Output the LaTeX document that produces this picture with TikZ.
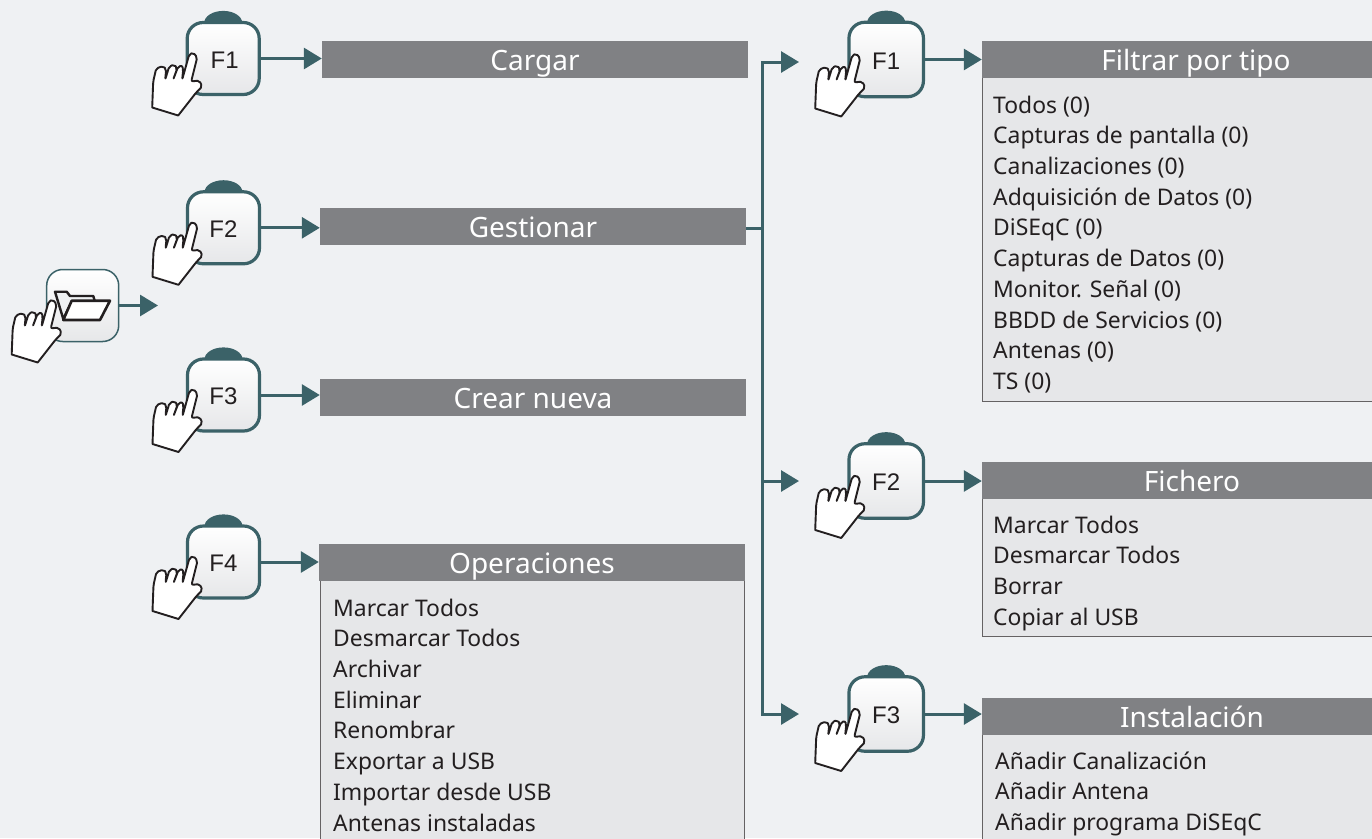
\documentclass[tikz,border=0pt]{standalone}
\usepackage{xcolor}
\usepackage{fontspec}
\usepackage{tikz}
\usetikzlibrary{arrows.meta}
\setmainfont{Noto Sans}
\newfontfamily\keyfont{Liberation Sans}
\definecolor{pagegrey}{HTML}{EFF1F3}
\definecolor{linkteal}{HTML}{3B6268}
\definecolor{bargrey}{HTML}{808184}
\definecolor{listgrey}{HTML}{E6E7E9}
\definecolor{inkgrey}{HTML}{231F20}
\tikzset{
	key node/.style={rectangle, draw=linkteal, line width=3.2pt, rounded corners=16pt, minimum size=72pt, inner sep=0pt, top color=white, bottom color=listgrey, text=inkgrey, text height=19pt, font=\keyfont\fontsize{24}{26}\selectfont},
	wide key/.style={key node, minimum size=74.5pt},
	open node/.style={key node, line width=1.5pt, minimum size=72pt},
	bar title/.style={inner sep=0pt, text=white, text height=28pt, text depth=6pt, font=\fontsize{28}{30}\selectfont},
	bar node/.style={bar title, rectangle, fill=bargrey, minimum width=426pt, minimum height=37pt},
	side bar/.style={bar node, minimum width=392pt},
	list node/.style={rectangle, draw=inkgrey!70, line width=.8pt, fill=listgrey, inner sep=0pt},
	list text/.style={anchor=north west, inner sep=0pt, align=left, text=inkgrey, font=\fontsize{22.9}{30.7}\selectfont},
	link/.style={draw=linkteal, line width=3pt, -{Triangle[length=18pt,width=21pt]}},
	bump/.style={fill=linkteal},
	hand/.pic={
		\draw[fill=white, draw=inkgrey, line width=1.9pt, rounded corners=2pt, line join=round]
		(-71,49) -- (-70,23) -- (-67,10) -- (-60,7.5) -- (-57,11) -- (-58,21)
		-- (-54,8) -- (-49,6) -- (-46,10) -- (-50,21)
		-- (-45,8) -- (-41,7) -- (-40,11) -- (-41,21)
		-- (-34,-4) -- (-30,-6) -- (-26,-1) -- (-32,23)
		-- (-24,22) -- (-21,28) -- (-27,34) [sharp corners] -- (-45,57) -- cycle;
	}
}
\begin{document}
\begin{tikzpicture}[x=1pt,y=-1pt]
	\path[use as bounding box, fill=pagegrey] (0,0) rectangle (1372,838);

	% Nodes
	\node[open node] (open) at (82.7,305.5) {};
	\node[key node] (a1) at (223.2,58.5) {\hspace{3pt}F1};
	\node[key node] (a2) at (223.5,227.8) {F2};
	\node[key node] (a3) at (223.5,395) {F3};
	\node[key node] (a4) at (223.5,562) {F4};
	\node[wide key] (b1) at (886.2,59.5) {F1};
	\node[wide key] (b2) at (886.2,481) {F2};
	\node[wide key] (b3) at (886.2,714) {F3};

	\node[list node, minimum width=424pt, minimum height=262pt] (opsbody) at (532.2,711) {};
	\node[list node, minimum width=392pt, minimum height=324pt] (filterbody) at (1178,239) {};
	\node[list node, minimum width=392pt, minimum height=174pt] (filebody) at (1178,549) {};
	\node[list node, minimum width=392pt, minimum height=144pt] (setupbody) at (1178,770) {};

	\node[bar node] (cargar) at (535,59.5) {Cargar};
	\node[bar node] (gestionar) at (533,226.5) {Gestionar};
	\node[bar node] (crear) at (533,397.5) {Crear nueva};
	\node[bar node] (ops) at (532,562.5) {Operaciones};
	\node[side bar] (filter) at (1178,59.5) {};
	\node[side bar] (file) at (1178,480) {};
	\node[side bar] (setup) at (1178,716.5) {};
	\node[bar title] (filtertitle) at (1196,59.5) {Filtrar por tipo};
	\node[bar title] (filetitle) at (1192,480) {Fichero};
	\node[bar title] (setuptitle) at (1192,716.5) {Instalación};

	\node[list text] (opslist) at (333,598.5) {Marcar Todos\\Desmarcar Todos\\Archivar\\Eliminar\\Renombrar\\Exportar a USB\\Importar desde USB\\Antenas instaladas};
	\node[list text] (filterlist) at (993,95.5) {Todos (0)\\Capturas de pantalla (0)\\Canalizaciones (0)\\Adquisición de Datos (0)\\DiSEqC (0)\\Capturas de Datos (0)\\Monitor. Señal (0)\\BBDD de Servicios (0)\\Antenas (0)\\TS (0)};
	\node[list text] (filelist) at (993,515.5) {Marcar Todos\\Desmarcar Todos\\Borrar\\Copiar al USB};
	\node[list text] (setuplist) at (995,751.5) {Añadir Canalización\\Añadir Antena\\Añadir programa DiSEqC};

	% Folder
	\draw[draw=inkgrey, line width=2.4pt, line join=round, fill=pagegrey] (55,291.7) -- (66.7,291.7) -- (70,296) -- (93.3,296) -- (95,301.7) -- (71.7,301.7) -- (63.3,319) -- cycle;
	\draw[draw=inkgrey, line width=2.6pt, line join=round, fill=white] (71.7,300.7) -- (110,300.7) -- (100,320) -- (63.3,320) -- cycle;

	% Bumps on the keys
	\fill[bump] (a1.north) ++(-19pt,-2pt) arc[start angle=180, end angle=0, x radius=19pt, y radius=12pt];
	\fill[bump] (a2.north) ++(-19pt,-2pt) arc[start angle=180, end angle=0, x radius=19pt, y radius=12pt];
	\fill[bump] (a3.north) ++(-19pt,-2pt) arc[start angle=180, end angle=0, x radius=19pt, y radius=12pt];
	\fill[bump] (a4.north) ++(-19pt,-2pt) arc[start angle=180, end angle=0, x radius=19pt, y radius=12pt];
	\fill[bump] (b1.north) ++(-19pt,-2pt) arc[start angle=180, end angle=0, x radius=19pt, y radius=12pt];
	\fill[bump] (b2.north) ++(-19pt,-2pt) arc[start angle=180, end angle=0, x radius=19pt, y radius=12pt];
	\fill[bump] (b3.north) ++(-19pt,-2pt) arc[start angle=180, end angle=0, x radius=19pt, y radius=12pt];

	% Connectors
	\coordinate (opentip) at (158,305.5);
	\coordinate (spine) at (762,228);
	\coordinate (tip1) at (799,62);
	\coordinate (tip2) at (799,481);
	\coordinate (tip3) at (799,714);

	\draw[link] (open.east) -- (opentip);
	\draw[link] (a1) -- (a1 -| cargar.west);
	\draw[link] (a2) -- (a2 -| gestionar.west);
	\draw[link] (a3) -- (a3 -| crear.west);
	\draw[link] (a4) -- (a4 -| ops.west);
	\draw[link] (b1) -- (b1 -| filter.west);
	\draw[link] (b2) -- (b2 -| file.west);
	\draw[link] (b3) -- (b3 -| setup.west);

	\draw[draw=linkteal, line width=3pt] (gestionar.east |- spine) -- (spine);
	\draw[link] (spine) |- (tip1);
	\draw[link] (spine) |- (tip2);
	\draw[link] (spine) |- (tip3);

	% Hands
	\pic at (open) {hand};
	\pic at (a1) {hand};
	\pic at (a2) {hand};
	\pic at (a3) {hand};
	\pic at (a4) {hand};
	\pic at (b1) {hand};
	\pic at (b2) {hand};
	\pic at (b3) {hand};
\end{tikzpicture}
\end{document}
